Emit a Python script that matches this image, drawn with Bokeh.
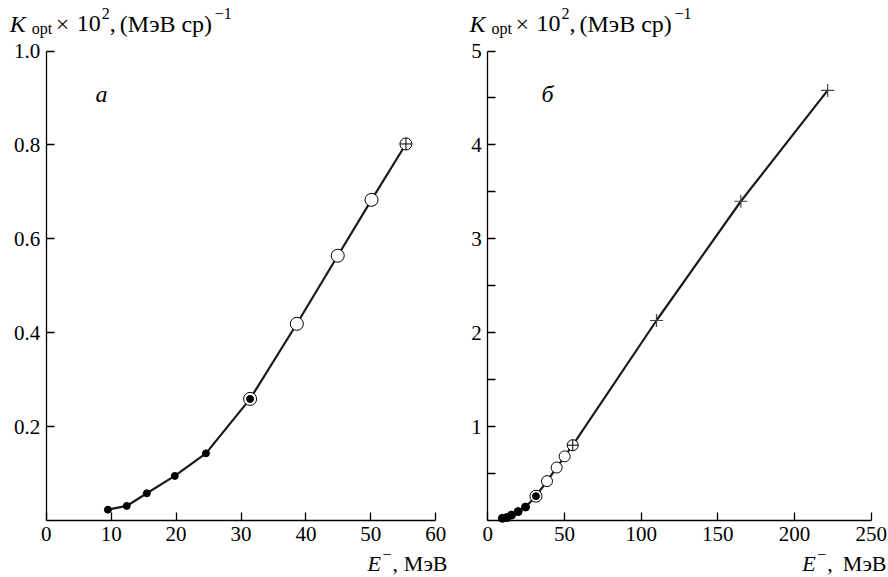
from bokeh.plotting import figure
from bokeh.layouts import row
from bokeh.models import Range1d, FixedTicker, Label
from bokeh.embed import file_html
from bokeh.resources import INLINE

# ---- data ----
E_dots = [9.5, 12.4, 15.5, 19.8, 24.6]
K_dots = [0.023, 0.031, 0.058, 0.095, 0.143]
E_ring = [31.4]
K_ring = [0.259]
E_open = [38.6, 44.9, 50.1]
K_open = [0.419, 0.564, 0.683]
E_xcirc = [55.4]
K_xcirc = [0.802]
E_plus = [110.0, 165.0, 221.6]
K_plus = [2.13, 3.40, 4.58]

xticks_a = [0, 10, 20, 30, 40, 50, 60]
yticks_a = [0.2, 0.4, 0.6, 0.8, 1.0]
xticks_b = [0, 50, 100, 150, 200, 250]
yticks_b = [0.5, 1, 1.5, 2, 2.5, 3, 3.5, 4, 4.5, 5]

FONT = "Liberation Serif"
TICK_SIZE = "21px"
TXT_SIZE = "22px"
TITLE_SIZE = "24px"
SMALL = "16px"
H = 577
BASE_FIX = 8  # labels render this many px lower than the requested baseline


def make_fig(width, x0_px, x1_px, xmax, y0_px, y1_px, ymax):
    # frame covers the whole canvas; axes are pinned at data zero
    sx = (x1_px - x0_px) / xmax
    sy = (y0_px - y1_px) / ymax
    xr = Range1d(-x0_px / sx, (width - x0_px) / sx)
    yr = Range1d(-(H - y0_px) / sy, y0_px / sy)
    p = figure(width=width, height=H, output_backend="svg", toolbar_location=None,
               x_range=xr, y_range=yr, min_border=0,
               min_border_left=0, min_border_right=0, min_border_top=0, min_border_bottom=0)
    p.xgrid.visible = False
    p.ygrid.visible = False
    p.outline_line_color = None
    p.xaxis[0].fixed_location = 0
    p.yaxis[0].fixed_location = 0
    p.xaxis[0].bounds = (0, xmax)
    p.yaxis[0].bounds = (0, ymax)
    for ax in (p.xaxis[0], p.yaxis[0]):
        ax.axis_line_color = "black"
        ax.axis_line_width = 1.3
        ax.major_tick_line_color = "black"
        ax.major_tick_line_width = 1.3
        ax.major_tick_in = 8
        ax.major_tick_out = 0
        ax.minor_tick_line_color = None
        ax.major_label_text_font = FONT
        ax.major_label_text_font_size = TICK_SIZE
        ax.major_label_text_color = "black"
        ax.major_label_standoff = 6
    return p


def txt(p, x, ybase, text, size=TXT_SIZE, italic=False, align="left"):
    # x, ybase in canvas pixels (from top-left of this figure)
    p.add_layout(Label(x=x, y=H - ybase + BASE_FIX, x_units="screen", y_units="screen",
                       text=text, text_font=FONT, text_font_size=size,
                       text_font_style="italic" if italic else "normal",
                       text_align=align, text_baseline="alphabetic",
                       text_color="black"))


def ylabel(p, x0):
    txt(p, x0, 31, "K", size=TITLE_SIZE, italic=True)
    txt(p, x0 + 22, 36, "opt", size=SMALL)
    txt(p, x0 + 46, 31, "\u00d7", size=TITLE_SIZE)
    txt(p, x0 + 67, 31, "10", size=TITLE_SIZE)
    txt(p, x0 + 92, 21, "2", size=SMALL)
    txt(p, x0 + 100, 31, ",", size=TITLE_SIZE)
    txt(p, x0 + 110, 31, "(\u041c\u044d\u0412 \u0441\u0440)", size=TITLE_SIZE)
    txt(p, x0 + 205, 21, "\u22121", size=SMALL)


def xlabel(p, xE, xend):
    txt(p, xE, 571, "E", italic=True)
    txt(p, xE + 15, 562, "\u2212", size=SMALL)
    txt(p, xE + 25, 571, ",")
    txt(p, xend, 571, "\u041c\u044d\u0412", align="right")


# ---- panel а ----
pa = make_fig(448, 45.7, 435.3, 60, 520, 50.5, 1.0)
pa.xaxis[0].ticker = FixedTicker(ticks=xticks_a)
pa.yaxis[0].ticker = FixedTicker(ticks=yticks_a)
pa.yaxis[0].major_label_overrides = {0.2: "0.2", 0.4: "0.4", 0.6: "0.6", 0.8: "0.8", 1.0: "1.0"}

Ea = E_dots + E_ring + E_open + E_xcirc
Ka = K_dots + K_ring + K_open + K_xcirc
pa.line(Ea, Ka, line_color="#1a1a1a", line_width=2.2)
pa.scatter(E_dots, K_dots, marker="circle", size=7, fill_color="black", line_color="black")
pa.scatter(E_ring, K_ring, marker="circle", size=13, fill_color="white", line_color="black", line_width=1)
pa.scatter(E_ring, K_ring, marker="circle", size=7, fill_color="black", line_color="black")
pa.scatter(E_open, K_open, marker="circle", size=13, fill_color="white", line_color="black", line_width=1)
pa.scatter(E_xcirc, K_xcirc, marker="circle_cross", size=12, fill_color="white", line_color="black", line_width=1)

ylabel(pa, 9.3)
xlabel(pa, 367, 447)
txt(pa, 95, 101, "\u0430", size=TITLE_SIZE, italic=True)

# ---- panel б ----
pb = make_fig(440, 39.3, 422.7, 250, 520, 50.5, 5.0)
pb.xaxis[0].ticker = FixedTicker(ticks=xticks_b)
pb.yaxis[0].ticker = FixedTicker(ticks=yticks_b)
pb.yaxis[0].major_label_overrides = {0.5: "", 1.5: "", 2.5: "", 3.5: "", 4.5: ""}

Eb = Ea + E_plus
Kb = Ka + K_plus
pb.line(Eb, Kb, line_color="#1a1a1a", line_width=2.2)
pb.scatter(E_dots, K_dots, marker="circle", size=8, fill_color="black", line_color="black")
pb.scatter(E_ring, K_ring, marker="circle", size=12, fill_color="white", line_color="black", line_width=1)
pb.scatter(E_ring, K_ring, marker="circle", size=7, fill_color="black", line_color="black")
pb.scatter(E_open, K_open, marker="circle", size=11, fill_color="white", line_color="black", line_width=1)
pb.scatter(E_xcirc, K_xcirc, marker="circle_cross", size=11, fill_color="white", line_color="black", line_width=1)
pb.scatter(E_plus, K_plus, marker="cross", size=13, line_color="#444444", line_width=1.2)

ylabel(pb, 21)
xlabel(pb, 353.7, 438)
txt(pb, 93, 101, "\u0431", size=TITLE_SIZE, italic=True)

layout = row(pa, pb)
open("out.html", "w").write(file_html(layout, INLINE))
